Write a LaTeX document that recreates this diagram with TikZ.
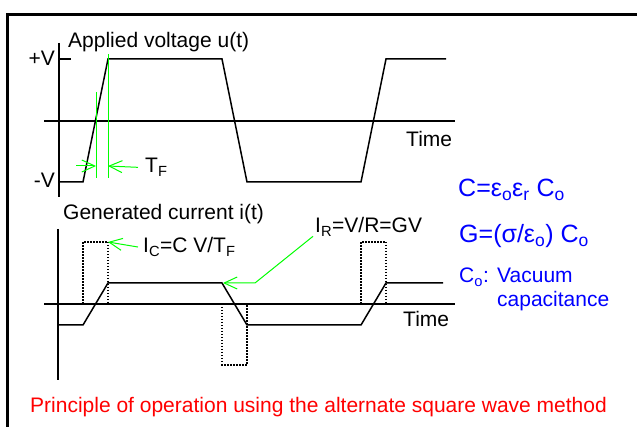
\documentclass[tikz,border=0pt]{standalone}
\usepackage{fontspec}
\setmainfont{Liberation Sans}
\usetikzlibrary{arrows.meta}

\tikzset{
  axis/.style={line width=2.2pt},
  wave/.style={line width=1.5pt},
  pulse/.style={line width=1.3pt,dash pattern=on 1.5pt off 1.5pt},
  marker/.style={green,line width=1pt},
  pointer/.style={marker,-{Straight Barb[length=13pt,width=12pt]}},
  lbl/.style={inner sep=0pt,anchor=base west,font=\fontsize{21}{25}\selectfont},
  formula/.style={lbl,blue,font=\fontsize{25}{30}\selectfont},
}

\begin{document}
\begin{tikzpicture}[x=1pt,y=-1pt]
  \useasboundingbox (0,0) rectangle (637,427);
  % frame
  \draw[axis] (7.5,427) -- (7.5,14.5) -- (637,14.5);

  % applied voltage
  \draw[axis] (59,43) -- (59,197);
  \draw[axis] (44,121) -- (455,121);
  \draw[wave] (59,59) -- (71,59);
  \draw[wave] (59,182) -- (83,182) -- (108,59) -- (222,59) -- (247,182)
    -- (361,182) -- (386,59) -- (446,59);
  \node[lbl] (uTitle) at (68,48) {Applied voltage u(t)};
  \node[lbl,anchor=base east] (vPlus) at (55,66) {+V};
  \node[lbl,anchor=base east] (vMinus) at (55,188) {-V};
  \node[lbl] (uTime) at (406,147) {Time};

  % rise time markers
  \draw[marker] (96,92) -- (96,178);
  \draw[marker] (108,54) -- (108,178);
  \coordinate (tfStart) at (76,166);
  \coordinate (tfLeft) at (96,166);
  \coordinate (tfRight) at (108,166);
  \node[lbl] (tf) at (145,173) {T\textsubscript{F}};
  \draw[pointer] (tfStart) -- (tfLeft);
  \draw[pointer] ([xshift=-7pt]tf.west) -- (tfRight);

  % generated current
  \draw[pulse] (83,304) -- (83,242) -- (108,242) -- (108,304);
  \draw[pulse] (222,304) rectangle (247,365);
  \draw[pulse] (361,304) -- (361,242) -- (386,242) -- (386,304);
  \draw[axis] (58,229) -- (58,380);
  \draw[axis] (44,304) -- (455,304);
  \draw[wave] (58,325) -- (83,325) -- (108,283) -- (222,283) -- (247,325)
    -- (361,325) -- (386,283) -- (443,283);
  \node[lbl] (iTitle) at (63,220) {Generated current i(t)};
  \node[lbl] (iTime) at (403,327) {Time};

  % current labels
  \coordinate (icTip) at (108,242);
  \node[lbl] (ic) at (143,253) {I\textsubscript{C}=C V/T\textsubscript{F}};
  \draw[pointer] ([xshift=-5pt]ic.west) -- (icTip);
  \coordinate (irBend) at (255,283);
  \coordinate (irTip) at (223,283);
  \node[lbl] (ir) at (315,233) {I\textsubscript{R}=V/R=GV};
  \draw[pointer] ([xshift=-2pt]ir.south west) -- (irBend) -- (irTip);

  % formulas
  \node[formula] (capC) at (458,197) {C=ε\textsubscript{o}ε\textsubscript{r} C\textsubscript{o}};
  \node[formula] (condG) at (459,243) {G=(σ/ε\textsubscript{o}) C\textsubscript{o}};
  \node[lbl,blue] (vacC) at (459,283) {C\textsubscript{o}:};
  \node[lbl,blue] (vacA) at (497,283) {Vacuum};
  \node[lbl,blue] (vacB) at (497,307) {capacitance};

  % caption
  \node[lbl,red] (caption) at (30,412) {Principle of operation using the alternate square wave method};
\end{tikzpicture}
\end{document}
